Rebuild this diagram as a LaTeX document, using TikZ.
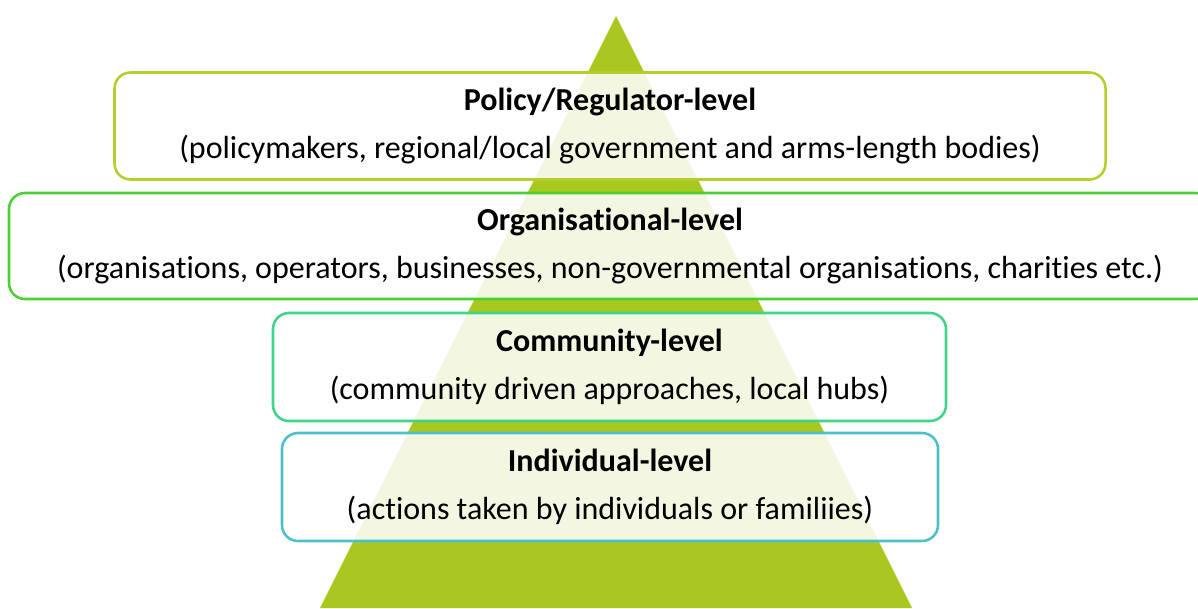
\documentclass[tikz,border=0pt]{standalone}
\usepackage{fontspec}
\setmainfont{Carlito}[Ligatures=NoCommon]

\definecolor{pyramid}{HTML}{A8C820}
\definecolor{policyline}{HTML}{B6CE2C}
\definecolor{orgline}{HTML}{4CCF34}
\definecolor{commline}{HTML}{40D488}
\definecolor{indivline}{HTML}{4CBFCC}

\tikzset{
  level/.style={draw, line width=1.9pt, rounded corners=12pt, fill=white, fill opacity=0.87,
    text opacity=1, align=center, inner sep=0pt, font=\fontsize{24}{28}\selectfont},
}

\begin{document}
\begin{tikzpicture}[x=0.75pt,y=-0.75pt]

\useasboundingbox (0,0) rectangle (1198,608);

\coordinate (top) at (616,16);
\coordinate (left) at (320,608);
\coordinate (right) at (912,608);

\fill [pyramid] (top)--(left)--(right)--cycle;

\node [level, draw=policyline, minimum width=991*0.75pt, minimum height=107*0.75pt] (policy) at (610,126)
  {\textbf{Policy/Regulator-level}\\[8pt](policymakers, regional/local government and arms-length bodies)};
\node [level, draw=orgline, minimum width=1202*0.75pt, minimum height=106*0.75pt] (organisational) at (610,246)
  {\textbf{Organisational-level}\\[8pt](organisations, operators, businesses, non-governmental organisations, charities etc.)};
\node [level, draw=commline, minimum width=673*0.75pt, minimum height=108*0.75pt] (community) at (609.5,367)
  {\textbf{Community-level}\\[8pt](community driven approaches, local hubs)};
\node [level, draw=indivline, minimum width=656*0.75pt, minimum height=108*0.75pt] (individual) at (610,487)
  {\textbf{Individual-level}\\[8pt](actions taken by individuals or familiies)};

\end{tikzpicture}
\end{document}
